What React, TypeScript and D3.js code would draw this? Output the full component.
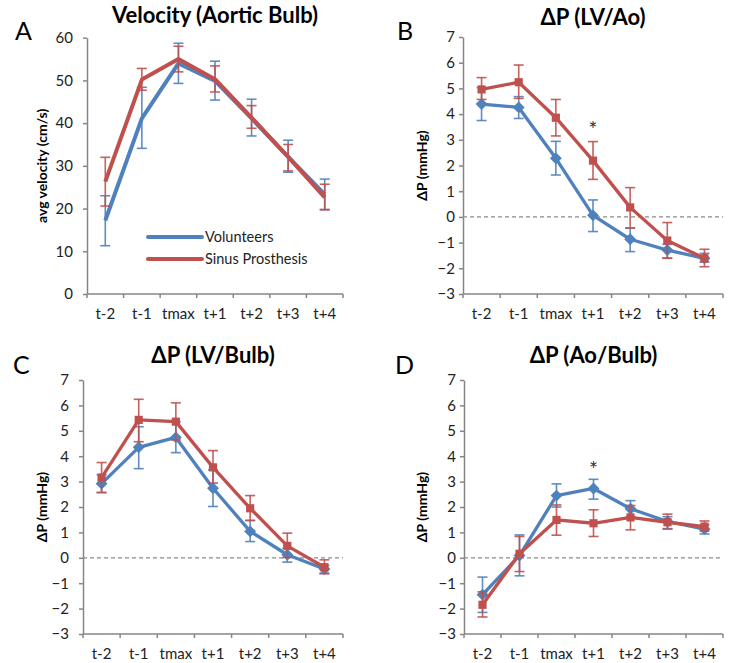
import React, { useRef, useEffect } from 'react';
import * as d3 from 'd3';

const categories = ['t-2', 't-1', 'tmax', 't+1', 't+2', 't+3', 't+4'];

// A: velocity in aortic bulb (cm/s)
const velVol = [17.2, 41.1, 54, 49.9, 41.1, 32.1, 23.3];
const velVolLo = [11.3, 34.1, 49.3, 45.4, 37, 28.5, 19.8];
const velVolHi = [23, 48.4, 58.7, 54.5, 45.6, 36, 26.9];
const velSin = [26.3, 50.2, 55, 50.3, 41.3, 32.1, 22.6];
const velSinLo = [20.6, 47.7, 52, 47.3, 38.8, 28.8, 19.7];
const velSinHi = [32, 52.8, 58, 53.4, 44.1, 35, 25.7];

// B: dP LV/Ao (mmHg)
const lvaoVol = [4.39, 4.26, 2.28, 0.06, -0.87, -1.29, -1.61];
const lvaoVolLo = [3.75, 3.83, 1.63, -0.57, -1.35, -1.6, -1.76];
const lvaoVolHi = [5.03, 4.68, 2.94, 0.66, -0.44, -1.07, -1.42];
const lvaoSin = [4.96, 5.24, 3.86, 2.19, 0.37, -0.92, -1.61];
const lvaoSinLo = [4.57, 4.61, 3.15, 1.46, -0.43, -1.61, -1.94];
const lvaoSinHi = [5.42, 5.91, 4.57, 2.93, 1.14, -0.22, -1.26];

// C: dP LV/Bulb (mmHg)
const lvbVol = [2.92, 4.35, 4.74, 2.74, 1.04, 0.12, -0.44];
const lvbVolLo = [2.57, 3.51, 4.14, 2.02, 0.64, -0.17, -0.6];
const lvbVolHi = [3.27, 5.16, 5.35, 3.46, 1.47, 0.38, -0.3];
const lvbSin = [3.16, 5.43, 5.36, 3.56, 1.95, 0.47, -0.37];
const lvbSinLo = [2.57, 4.57, 4.64, 2.94, 1.47, 0.01, -0.63];
const lvbSinHi = [3.75, 6.24, 6.1, 4.22, 2.45, 0.97, -0.08];

// D: dP Ao/Bulb (mmHg)
const aobVol = [-1.45, 0.09, 2.45, 2.73, 1.93, 1.43, 1.13];
const aobVolLo = [-2.15, -0.71, 2.0, 2.31, 1.6, 1.15, 0.94];
const aobVolHi = [-0.76, 0.9, 2.91, 3.09, 2.25, 1.62, 1.3];
const aobSin = [-1.85, 0.16, 1.49, 1.36, 1.59, 1.4, 1.23];
const aobSinLo = [-2.33, -0.54, 0.89, 0.84, 1.1, 1.13, 1.05];
const aobSinHi = [-1.34, 0.84, 2.08, 1.89, 2.06, 1.72, 1.45];

const velTicks = [0, 10, 20, 30, 40, 50, 60];
const dpTicks = [-3, -2, -1, 0, 1, 2, 3, 4, 5, 6, 7];

const seriesNames = ['Volunteers', 'Sinus Prosthesis'];
const BLUE = '#4F81BD';
const RED = '#C0504D';
const AXIS = '#868686';
const FONT = 'Lato, "Open Sans", sans-serif';

const panels = [
  {
    letter: 'A', title: 'Velocity (Aortic Bulb)', ylabel: 'avg velocity (cm/s)',
    x0: 87, x1: 343, yTop: 37.7, yBot: 294, yLabX: 47, pad: 10, letterX: 15, letterY: 40, titleY: 23,
    ticks: velTicks, markers: false, zero: false, legend: true, star: null,
    vol: [velVol, velVolLo, velVolHi], sin: [velSin, velSinLo, velSinHi],
  },
  {
    letter: 'B', title: 'ΔP (LV/Ao)', ylabel: 'ΔP (mmHg)',
    x0: 463, x1: 723, yTop: 37, yBot: 294, yLabX: 427, pad: 4, letterX: 397, letterY: 40, titleY: 25,
    ticks: dpTicks, markers: true, zero: true, legend: false, star: { i: 3, v: 3.44 },
    vol: [lvaoVol, lvaoVolLo, lvaoVolHi], sin: [lvaoSin, lvaoSinLo, lvaoSinHi],
  },
  {
    letter: 'C', title: 'ΔP (LV/Bulb)', ylabel: 'ΔP (mmHg)',
    x0: 83, x1: 343, yTop: 380, yBot: 634, yLabX: 47, pad: 10, letterX: 13, letterY: 374, titleY: 363,
    ticks: dpTicks, markers: true, zero: true, legend: false, star: null,
    vol: [lvbVol, lvbVolLo, lvbVolHi], sin: [lvbSin, lvbSinLo, lvbSinHi],
  },
  {
    letter: 'D', title: 'ΔP (Ao/Bulb)', ylabel: 'ΔP (mmHg)',
    x0: 464, x1: 723, yTop: 380, yBot: 634, yLabX: 427, pad: 4, letterX: 395, letterY: 374, titleY: 363,
    ticks: dpTicks, markers: true, zero: true, legend: false, star: { i: 3, v: 3.53 },
    vol: [aobVol, aobVolLo, aobVolHi], sin: [aobSin, aobSinLo, aobSinHi],
  },
];

const App = () => {
  const ref = useRef(null);

  useEffect(() => {
    const svg = d3.select(ref.current);
    svg.selectAll('*').remove();

    panels.forEach(p => {
      const g = svg.append('g');
      const x = d3.scaleBand().domain(categories).range([p.x0, p.x1]).padding(0);
      const y = d3.scaleLinear().domain([p.ticks[0], p.ticks[p.ticks.length - 1]]).range([p.yBot, p.yTop]);
      const cx = d => x(d) + x.bandwidth() / 2;

      // panel letter + title
      g.append('text').attr('x', p.letterX).attr('y', p.letterY)
        .attr('font-family', FONT).attr('font-size', 25).attr('fill', '#000').text(p.letter);
      g.append('text').attr('x', (p.x0 + p.x1) / 2).attr('y', p.titleY)
        .attr('text-anchor', 'middle').attr('font-family', FONT).attr('font-weight', 'bold')
        .attr('font-size', 22).attr('fill', '#000').text(p.title);

      // y axis
      const ya = g.append('g').attr('transform', `translate(${p.x0},0)`)
        .call(d3.axisLeft(y).tickValues(p.ticks).tickSize(4).tickSizeOuter(0).tickPadding(p.pad));
      ya.select('.domain').attr('stroke', AXIS).attr('stroke-width', 1.5);
      ya.selectAll('.tick line').attr('stroke', AXIS).attr('stroke-width', 1.5);
      ya.selectAll('.tick text').attr('font-family', FONT).attr('font-size', 15).attr('fill', '#222');

      g.append('text')
        .attr('transform', `translate(${p.yLabX},${(p.yTop + p.yBot) / 2}) rotate(-90)`)
        .attr('text-anchor', 'middle').attr('font-family', FONT).attr('font-weight', 'bold')
        .attr('font-size', 14).attr('fill', '#000').text(p.ylabel);

      // x axis with ticks between categories
      g.append('line').attr('x1', p.x0).attr('x2', p.x1).attr('y1', p.yBot).attr('y2', p.yBot)
        .attr('stroke', AXIS).attr('stroke-width', 1.5);
      const edges = categories.map(c => x(c)).concat([p.x1]);
      g.selectAll('.xt').data(edges).enter().append('line')
        .attr('x1', d => d).attr('x2', d => d).attr('y1', p.yBot).attr('y2', p.yBot + 4)
        .attr('stroke', AXIS).attr('stroke-width', 1.5);
      g.selectAll('.xl').data(categories).enter().append('text')
        .attr('x', d => cx(d)).attr('y', p.yBot + 25).attr('text-anchor', 'middle')
        .attr('font-family', FONT).attr('font-size', 15).attr('fill', '#222').text(d => d);

      if (p.zero) {
        g.append('line').attr('x1', p.x0).attr('x2', p.x1).attr('y1', y(0)).attr('y2', y(0))
          .attr('stroke', '#8c8c8c').attr('stroke-width', 1.2).attr('stroke-dasharray', '4,3');
      }

      const drawSeries = (vals, color, shape) => {
        const [m, lo, hi] = vals;
        const line = d3.line().x((d, i) => cx(categories[i])).y(d => y(d));
        g.append('path').datum(m).attr('fill', 'none').attr('stroke', color)
          .attr('stroke-width', p.markers ? 3.3 : 4).attr('stroke-linejoin', 'round').attr('d', line);
        const eb = g.append('g').attr('stroke', color).attr('stroke-width', 1.6).attr('stroke-opacity', 0.9);
        categories.forEach((c, i) => {
          const xc = cx(c);
          eb.append('line').attr('x1', xc).attr('x2', xc).attr('y1', y(lo[i])).attr('y2', y(hi[i]));
          eb.append('line').attr('x1', xc - 5).attr('x2', xc + 5).attr('y1', y(lo[i])).attr('y2', y(lo[i]));
          eb.append('line').attr('x1', xc - 5).attr('x2', xc + 5).attr('y1', y(hi[i])).attr('y2', y(hi[i]));
        });
        if (p.markers) {
          const sym = d3.symbol().type(shape === 'diamond' ? d3.symbolDiamond2 : d3.symbolSquare2)
            .size(shape === 'diamond' ? 90 : 85);
          g.selectAll(null).data(m).enter().append('path')
            .attr('transform', (d, i) => `translate(${cx(categories[i])},${y(d)})`)
            .attr('d', sym).attr('fill', color);
        }
      };

      drawSeries(p.vol, BLUE, 'diamond');
      drawSeries(p.sin, RED, 'square');

      if (p.star) {
        g.append('text').attr('x', cx(categories[p.star.i])).attr('y', y(p.star.v) + 9)
          .attr('text-anchor', 'middle').attr('font-family', FONT).attr('font-size', 21)
          .attr('fill', '#333').text('*');
      }

      if (p.legend) {
        const items = [{ name: seriesNames[0], color: BLUE }, { name: seriesNames[1], color: RED }];
        items.forEach((it, i) => {
          const ly = 237 + i * 22;
          g.append('line').attr('x1', 148).attr('x2', 202).attr('y1', ly).attr('y2', ly)
            .attr('stroke', it.color).attr('stroke-width', 4).attr('stroke-linecap', 'round');
          g.append('text').attr('x', 205).attr('y', ly + 5).attr('font-family', FONT)
            .attr('font-size', 14.5).attr('fill', '#222').text(it.name);
        });
      }
    });
  }, []);

  return (
    <svg ref={ref} width={729} height={663}
      style={{ position: 'absolute', left: 0, top: 0, background: '#fff' }} />
  );
};

export default App;
